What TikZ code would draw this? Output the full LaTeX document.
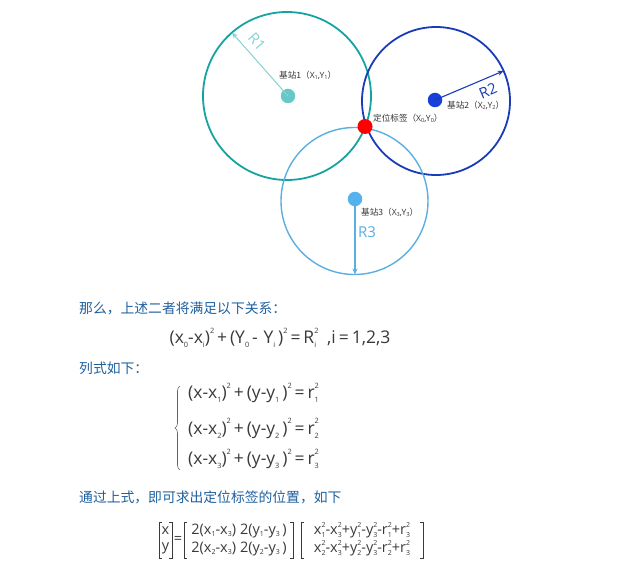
\documentclass[tikz,border=0pt]{standalone}
\usepackage{fontspec}
\setmainfont{Noto Sans CJK SC}
\newfontfamily\lat{Open Sans}
\usetikzlibrary{arrows.meta,decorations.pathreplacing}
\definecolor{cTeal}{HTML}{14A3A0}
\definecolor{cTealDot}{HTML}{68C8C8}
\definecolor{cTealArr}{HTML}{86D2D2}
\definecolor{cBlue}{HTML}{1A3CB8}
\definecolor{cBlueDot}{HTML}{1840D8}
\definecolor{cLight}{HTML}{5AAEE0}
\definecolor{cLightDot}{HTML}{55B2EE}
\definecolor{cHead}{HTML}{1F5F9E}
\definecolor{cForm}{HTML}{3A3A3A}
\newcommand\sbx[1]{\raisebox{-0.22em}{\scalebox{0.42}{#1}}}
\newcommand\spx[1]{\raisebox{0.6em}{\scalebox{0.42}{#1}}}
\newcommand\sbsp[2]{\rlap{\sbx{#1}}\spx{#2}}
\newcommand\msb[1]{\raisebox{-0.2em}{\scalebox{0.48}{#1}}}
\newcommand\msp[1]{\raisebox{0.5em}{\scalebox{0.48}{#1}}}
\newcommand\msbsp[2]{\rlap{\msb{#1}}\msp{#2}}
\newcommand\lsb[1]{\raisebox{-0.15em}{\scalebox{0.65}{#1}}}
\tikzset{
  station/.style={circle,inner sep=0pt,minimum size=14.5pt},
  lbl/.style={font=\fontsize{8.6}{9}\selectfont,text=black!80,inner sep=0pt,anchor=west},
  head/.style={font=\fontsize{13.8}{16}\selectfont,text=cHead,inner sep=0pt,anchor=west},
  form/.style={font=\lat\fontsize{17.5}{20}\selectfont,text=cForm,inner sep=0pt},
  mform/.style={font=\lat\fontsize{14.5}{16}\selectfont,text=cForm,inner sep=0pt},
  brk/.style={draw=cForm,line width=0.6pt},
  rarrow/.style={-{Stealth[length=6pt,width=5pt]},line width=1.1pt}
}
\begin{document}
\begin{tikzpicture}[x=1pt,y=-1pt]
\useasboundingbox (0,0) rectangle (634,580);
% circles
\draw[cTeal,line width=1.8pt] (287,96) circle (84);
\draw[cBlue,line width=1.8pt] (436,101) circle (74);
\draw[cLight,line width=1.4pt] (354.5,201) circle (73.5);
% radius coordinates
\coordinate (r1) at ({287+84*cos(229)},{96+84*sin(229)});
\coordinate (r2) at ({436+74*cos(-24)},{101+74*sin(-24)});
\coordinate (r3) at (355,274.5);
% stations
\node[station,fill=cTealDot] (s1) at (288,96) {};
\node[station,fill=cBlueDot] (s2) at (435,100) {};
\node[station,fill=cLightDot] (s3) at (355,199) {};
\node[station,fill=red,minimum size=15pt] (t) at (365,126.5) {};
% radius arrows
\draw[rarrow,cTealArr,line width=1pt] (s1.center) -- (r1);
\draw[rarrow,cBlue] (s2.center) -- (r2);
\draw[rarrow,cLight] (s3.center) -- (r3);
\node[text=cTealArr,font=\lat\fontsize{15}{15}\selectfont,rotate=-49] (R1) at (257,42) {R1};
\node[text=cBlue,font=\lat\fontsize{15}{15}\selectfont,rotate=23] (R2) at (488,91) {R2};
\node[text=cLight,font=\lat\fontsize{15}{15}\selectfont] (R3) at (367,232) {R3};
% labels
\node[lbl] (l1) at (279,75) {基站1（{\lat X\lsb{1},Y\lsb{1}}）};
\node[lbl] (l2) at (447,105) {基站2（{\lat X\lsb{2},Y\lsb{2}}）};
\node[lbl] (l0) at (373,118) {定位标签（{\lat X\lsb{0},Y\lsb{0}}）};
\node[lbl] (l3) at (361,212) {基站3（{\lat X\lsb{3},Y\lsb{3}}）};
% text
\node[head] (h1) at (79,308) {那么，上述二者将满足以下关系：};
\node[form] (f1) at (280,338) {(x\sbx{0}-x\sbx{i})\spx{2}\,+\,(Y\sbx{0}\,-\,\,Y\sbx{i}\,)\spx{2}\,=\,R\sbsp{i}{2}\,\,\,,i\,=\,1,2,3};
\node[head] (h2) at (79,368) {列式如下：};
\node[form,anchor=west] (e1) at (188,393) {(x-x\sbx{1})\spx{2}\,+\,(y-y\sbx{1}\,)\spx{2}\,=\,r\sbsp{1}{2}};
\node[form,anchor=west] (e2) at (188,428.5) {(x-x\sbx{2})\spx{2}\,+\,(y-y\sbx{2}\,)\spx{2}\,=\,r\sbsp{2}{2}};
\node[form,anchor=west] (e3) at (188,459) {(x-x\sbx{3})\spx{2}\,+\,(y-y\sbx{3}\,)\spx{2}\,=\,r\sbsp{3}{2}};
\coordinate (bt) at (180,386);
\coordinate (bb) at (180,470);
\draw[cForm!80,line width=0.6pt,decorate,decoration={brace,amplitude=5pt}] (bb) -- (bt);
\node[head] (h3) at (79,497) {通过上式，即可求出定位标签的位置，如下};
% matrix equation
\node[mform] (mx) at (165.5,530.5) {x};
\node[mform] (my) at (165.5,548.5) {y};
\node[mform] (eq) at (178,540) {=};
\node[mform] (a1) at (239,530.5) {2(x\msb{1}-x\msb{3})\;2(y\msb{1}-y\msb{3}\,)};
\node[mform] (a2) at (239,548.5) {2(x\msb{2}-x\msb{3})\;2(y\msb{2}-y\msb{3}\,)};
\node[mform] (b1) at (362,530.5) {x\msbsp{1}{2}-x\msbsp{3}{2}+y\msbsp{1}{2}-y\msbsp{3}{2}-r\msbsp{1}{2}+r\msbsp{3}{2}};
\node[mform] (b2) at (362,548.5) {x\msbsp{2}{2}-x\msbsp{3}{2}+y\msbsp{2}{2}-y\msbsp{3}{2}-r\msbsp{2}{2}+r\msbsp{3}{2}};
\draw[brk] (162,522) -- (159,522) -- (159,558) -- (162,558);
\draw[brk] (169,522) -- (172,522) -- (172,558) -- (169,558);
\draw[brk] (187,522) -- (184,522) -- (184,558) -- (187,558);
\draw[brk] (290,522) -- (293,522) -- (293,558) -- (290,558);
\draw[brk] (304,522) -- (301,522) -- (301,558) -- (304,558);
\draw[brk] (420,522) -- (423,522) -- (423,558) -- (420,558);
\end{tikzpicture}
\end{document}
